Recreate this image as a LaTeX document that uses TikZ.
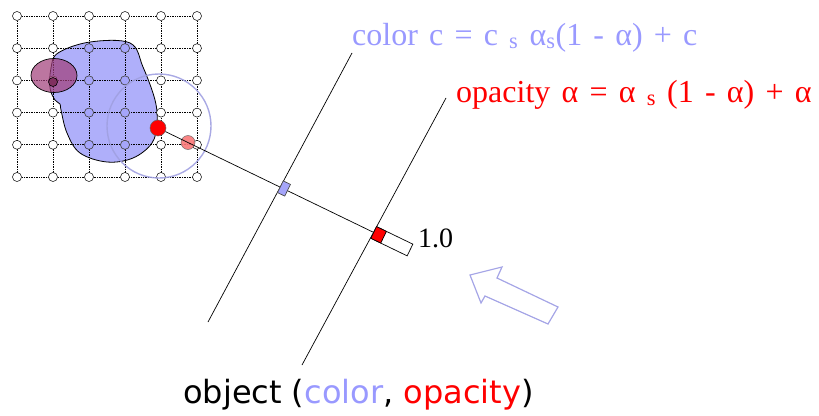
\documentclass[tikz,border=0pt]{standalone}
\usepackage{fontspec}
\setmainfont{Liberation Serif}
\newfontfamily\formfont[WordSpace=1.4]{Liberation Serif}
\newfontfamily\comicfont{DejaVu Sans}
\usetikzlibrary{calc}
\definecolor{lblue}{RGB}{153,153,255}
\definecolor{blobfill}{RGB}{175,175,250}
\definecolor{dotblue}{RGB}{165,165,250}
\definecolor{mauve}{RGB}{160,60,120}
\definecolor{ringc}{RGB}{160,160,225}
\definecolor{lred}{RGB}{250,120,120}
\definecolor{arrowc}{RGB}{165,165,230}
\tikzset{
  gridpt/.style={circle,draw=black,fill=white,line width=0.5pt,minimum size=9pt,inner sep=0pt},
  bluept/.style={circle,draw=black!70,fill=dotblue,line width=0.5pt,minimum size=9pt,inner sep=0pt},
  gridline/.style={densely dotted,line width=0.7pt},
  sliceline/.style={line width=0.7pt},
  samplebox/.style={draw=black,line width=0.7pt,rotate=-25.84,inner sep=0pt},
}
\begin{document}
\begin{tikzpicture}[x=1pt,y=-1pt]
\useasboundingbox (0,0) rectangle (819,415);
% blob
\draw[fill=blobfill,line width=0.8pt] plot[smooth cycle,tension=0.6] coordinates{
 (58,53) (90,42) (130,43) (143,67) (155,100) (157,123) (152,143) (133,158) (107,162) (80,153) (67,133) (61,110) (60,104) (55,100) (50,88) (51,68)};
% grid lines
\foreach \j in {0,...,5} {
  \draw[gridline] (17,{16+32.2*\j}) -- (197,{16+32.2*\j});
  \draw[gridline] ({17+36*\j},16) -- ({17+36*\j},177);
}
% grid points
\foreach \i in {0,...,5} {
  \foreach \j in {0,...,5} {
    \node[gridpt] (g\i\j) at ({17+36*\i},{16+32.2*\j}) {};
  }
}
\foreach \i in {2,3} {
  \foreach \j in {1,...,4} {
    \node[bluept] (b\i\j) at ({17+36*\i},{16+32.2*\j}) {};
  }
}
% purple ellipse
\draw[fill=mauve,fill opacity=0.7,line width=0.7pt] (54,75.5) ellipse [x radius=23, y radius=17];
\draw[line width=0.6pt,fill=mauve!80!black] (53,82) circle (4.5);
% big ring
\node[circle,draw=ringc,line width=1.4pt,minimum size=104pt,inner sep=0pt,opacity=0.9] (ring) at (159,126) {};
% slice lines
\coordinate (l1a) at (352,53);
\coordinate (l1b) at (208,322);
\coordinate (l2a) at (446,98);
\coordinate (l2b) at (302,365);
\draw[sliceline] (l1a) -- (l1b);
\draw[sliceline] (l2a) -- (l2b);
% samples and ray
\node[circle,fill=red,draw=black!60,line width=0.5pt,minimum size=16pt,inner sep=0pt] (rd) at (158,128) {};
\node[circle,fill=lred,draw=black!60,line width=0.5pt,minimum size=14pt,inner sep=0pt,opacity=0.9] (ld) at (188,142.5) {};
\node[samplebox,minimum width=40pt,minimum height=13pt] (bx) at (392,241.3) {};
\draw[line width=0.7pt] (rd) -- (bx.west);
\node[samplebox,fill=red,minimum width=11pt,minimum height=13pt] (rb) at ($(bx.west)!5.5pt!(bx.east)$) {};
\node[samplebox,fill=dotblue,draw=black!70,minimum width=8pt,minimum height=13pt] (bb) at (284,188.5) {};
% labels
\node[anchor=base west,inner sep=0pt,text=lblue,font=\formfont\fontsize{32}{36}\selectfont] (ceq) at (352,45) {color c = c \textsubscript{s} α\textsubscript{s}(1 - α) + c};
\node[anchor=base west,inner sep=0pt,text=red,font=\formfont\fontsize{32}{36}\selectfont] (aeq) at (456,102) {opacity α = α \textsubscript{s} (1 - α) + α};
\node[anchor=west,inner sep=0pt,font=\fontsize{28}{32}\selectfont] (one) at (418,238) {1.0};
\node[anchor=base west,inner sep=0pt,font=\comicfont\fontsize{32}{38}\selectfont] (obj) at (183,403) {object (\textcolor{lblue}{color}, \textcolor{red}{opacity})};
% hollow arrow
\draw[arrowc,line width=1.2pt,line join=miter] (470,275) -- (502,267) -- (497,278) -- (558,307) -- (548,324) -- (485,296) -- (481,303) -- cycle;
\end{tikzpicture}
\end{document}
